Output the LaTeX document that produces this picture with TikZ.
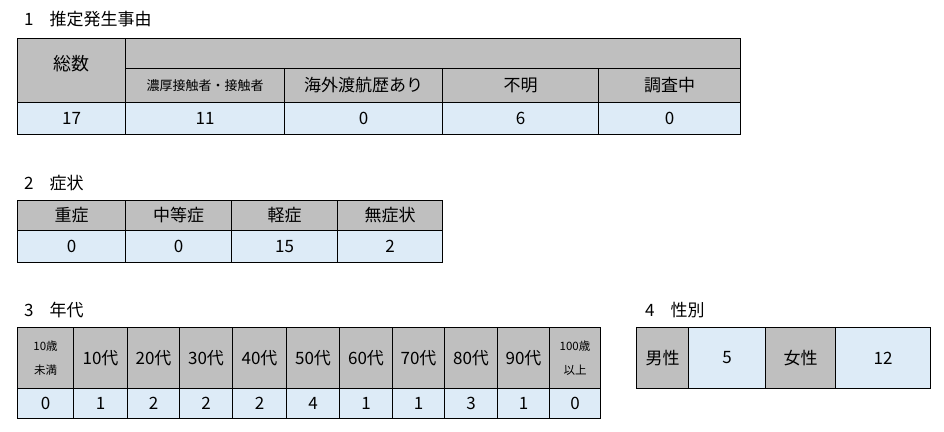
\documentclass[tikz,border=0pt]{standalone}
\usepackage{fontspec}
\setmainfont{Noto Sans CJK JP}
\definecolor{hg}{HTML}{BFBFBF}
\definecolor{db}{HTML}{DDEBF7}
\begin{document}
\begin{tikzpicture}[x=1pt,y=-1pt,
  cell/.style={draw=black,line width=1pt,inner sep=0pt,font=\fontsize{17}{19}\selectfont},
  hd/.style={cell,fill=hg},
  dt/.style={cell,fill=db},
  ttl/.style={anchor=west,font=\fontsize{17}{19}\selectfont,inner sep=0pt}]
\useasboundingbox (0,0) rectangle (944,431);
% Table 1
\node[ttl] (t1) at (24,19) {1\hspace{16pt}推定発生事由};
\node[hd,anchor=north west,minimum width=723,minimum height=64] (h1) at (17,38) {};
\node[hd,anchor=north west,minimum width=108,minimum height=64] (a0) at (17,38) {};
\node at (a0.center) [yshift=7pt,font=\fontsize{18}{20}\selectfont] {総数};
\foreach \n/\xa/\xb/\t/\f in {a1/125/284/濃厚接触者・接触者/13,a2/284/442/海外渡航歴あり/17,a3/442/598/不明/17,a4/598/740/調査中/17}{
  \node[hd,anchor=north west,minimum width=\xb-\xa,minimum height=34,font=\fontsize{\f}{19}\selectfont] (\n) at (\xa,68) {\t};}
\foreach \n/\xa/\xb/\t in {b0/17/125/17,b1/125/284/11,b2/284/442/0,b3/442/598/6,b4/598/740/0}{
  \node[dt,anchor=north west,minimum width=\xb-\xa,minimum height=32] (\n) at (\xa,102) {\t};}
% Table 2
\node[ttl] (t2) at (24,183) {2\hspace{16pt}症状};
\foreach \n/\xa/\xb/\t in {c0/17/125/重症,c1/125/231/中等症,c2/231/337/軽症,c3/337/442/無症状}{
  \node[hd,anchor=north west,minimum width=\xb-\xa,minimum height=30] (\n) at (\xa,200) {\t};}
\foreach \n/\xa/\xb/\t in {d0/17/125/0,d1/125/231/0,d2/231/337/15,d3/337/442/2}{
  \node[dt,anchor=north west,minimum width=\xb-\xa,minimum height=32] (\n) at (\xa,230) {\t};}
% Table 3
\node[ttl] (t3) at (24,310) {3\hspace{16pt}年代};
\foreach \n/\xa/\xb/\t in {e1/73/127/10代,e2/127/179/20代,e3/179/232/30代,e4/232/286/40代,e5/286/339/50代,e6/339/392/60代,e7/392/444/70代,e8/444/497/80代,e9/497/549/90代}{
  \node[hd,anchor=north west,minimum width=\xb-\xa,minimum height=61] (\n) at (\xa,327) {\t};}
\node[hd,anchor=north west,minimum width=56,minimum height=61,align=center,font=\fontsize{11.5}{24}\selectfont] (e0) at (17,327) {10歳\\未満};
\node[hd,anchor=north west,minimum width=51,minimum height=61,align=center,font=\fontsize{11.5}{24}\selectfont] (e10) at (549,327) {100歳\\以上};
\foreach \n/\xa/\xb/\t in {f0/17/73/0,f1/73/127/1,f2/127/179/2,f3/179/232/2,f4/232/286/2,f5/286/339/4,f6/339/392/1,f7/392/444/1,f8/444/497/3,f9/497/549/1,f10/549/600/0}{
  \node[dt,anchor=north west,minimum width=\xb-\xa,minimum height=30] (\n) at (\xa,388) {\t};}
% Table 4
\node[ttl] (t4) at (645,310) {4\hspace{16pt}性別};
\node[hd,anchor=north west,minimum width=52,minimum height=61] (g0) at (636,327) {男性};
\node[dt,anchor=north west,minimum width=77,minimum height=61] (g1) at (688,327) {5};
\node[hd,anchor=north west,minimum width=70,minimum height=61] (g2) at (765,327) {女性};
\node[dt,anchor=north west,minimum width=95,minimum height=61] (g3) at (835,327) {12};
\end{tikzpicture}
\end{document}
